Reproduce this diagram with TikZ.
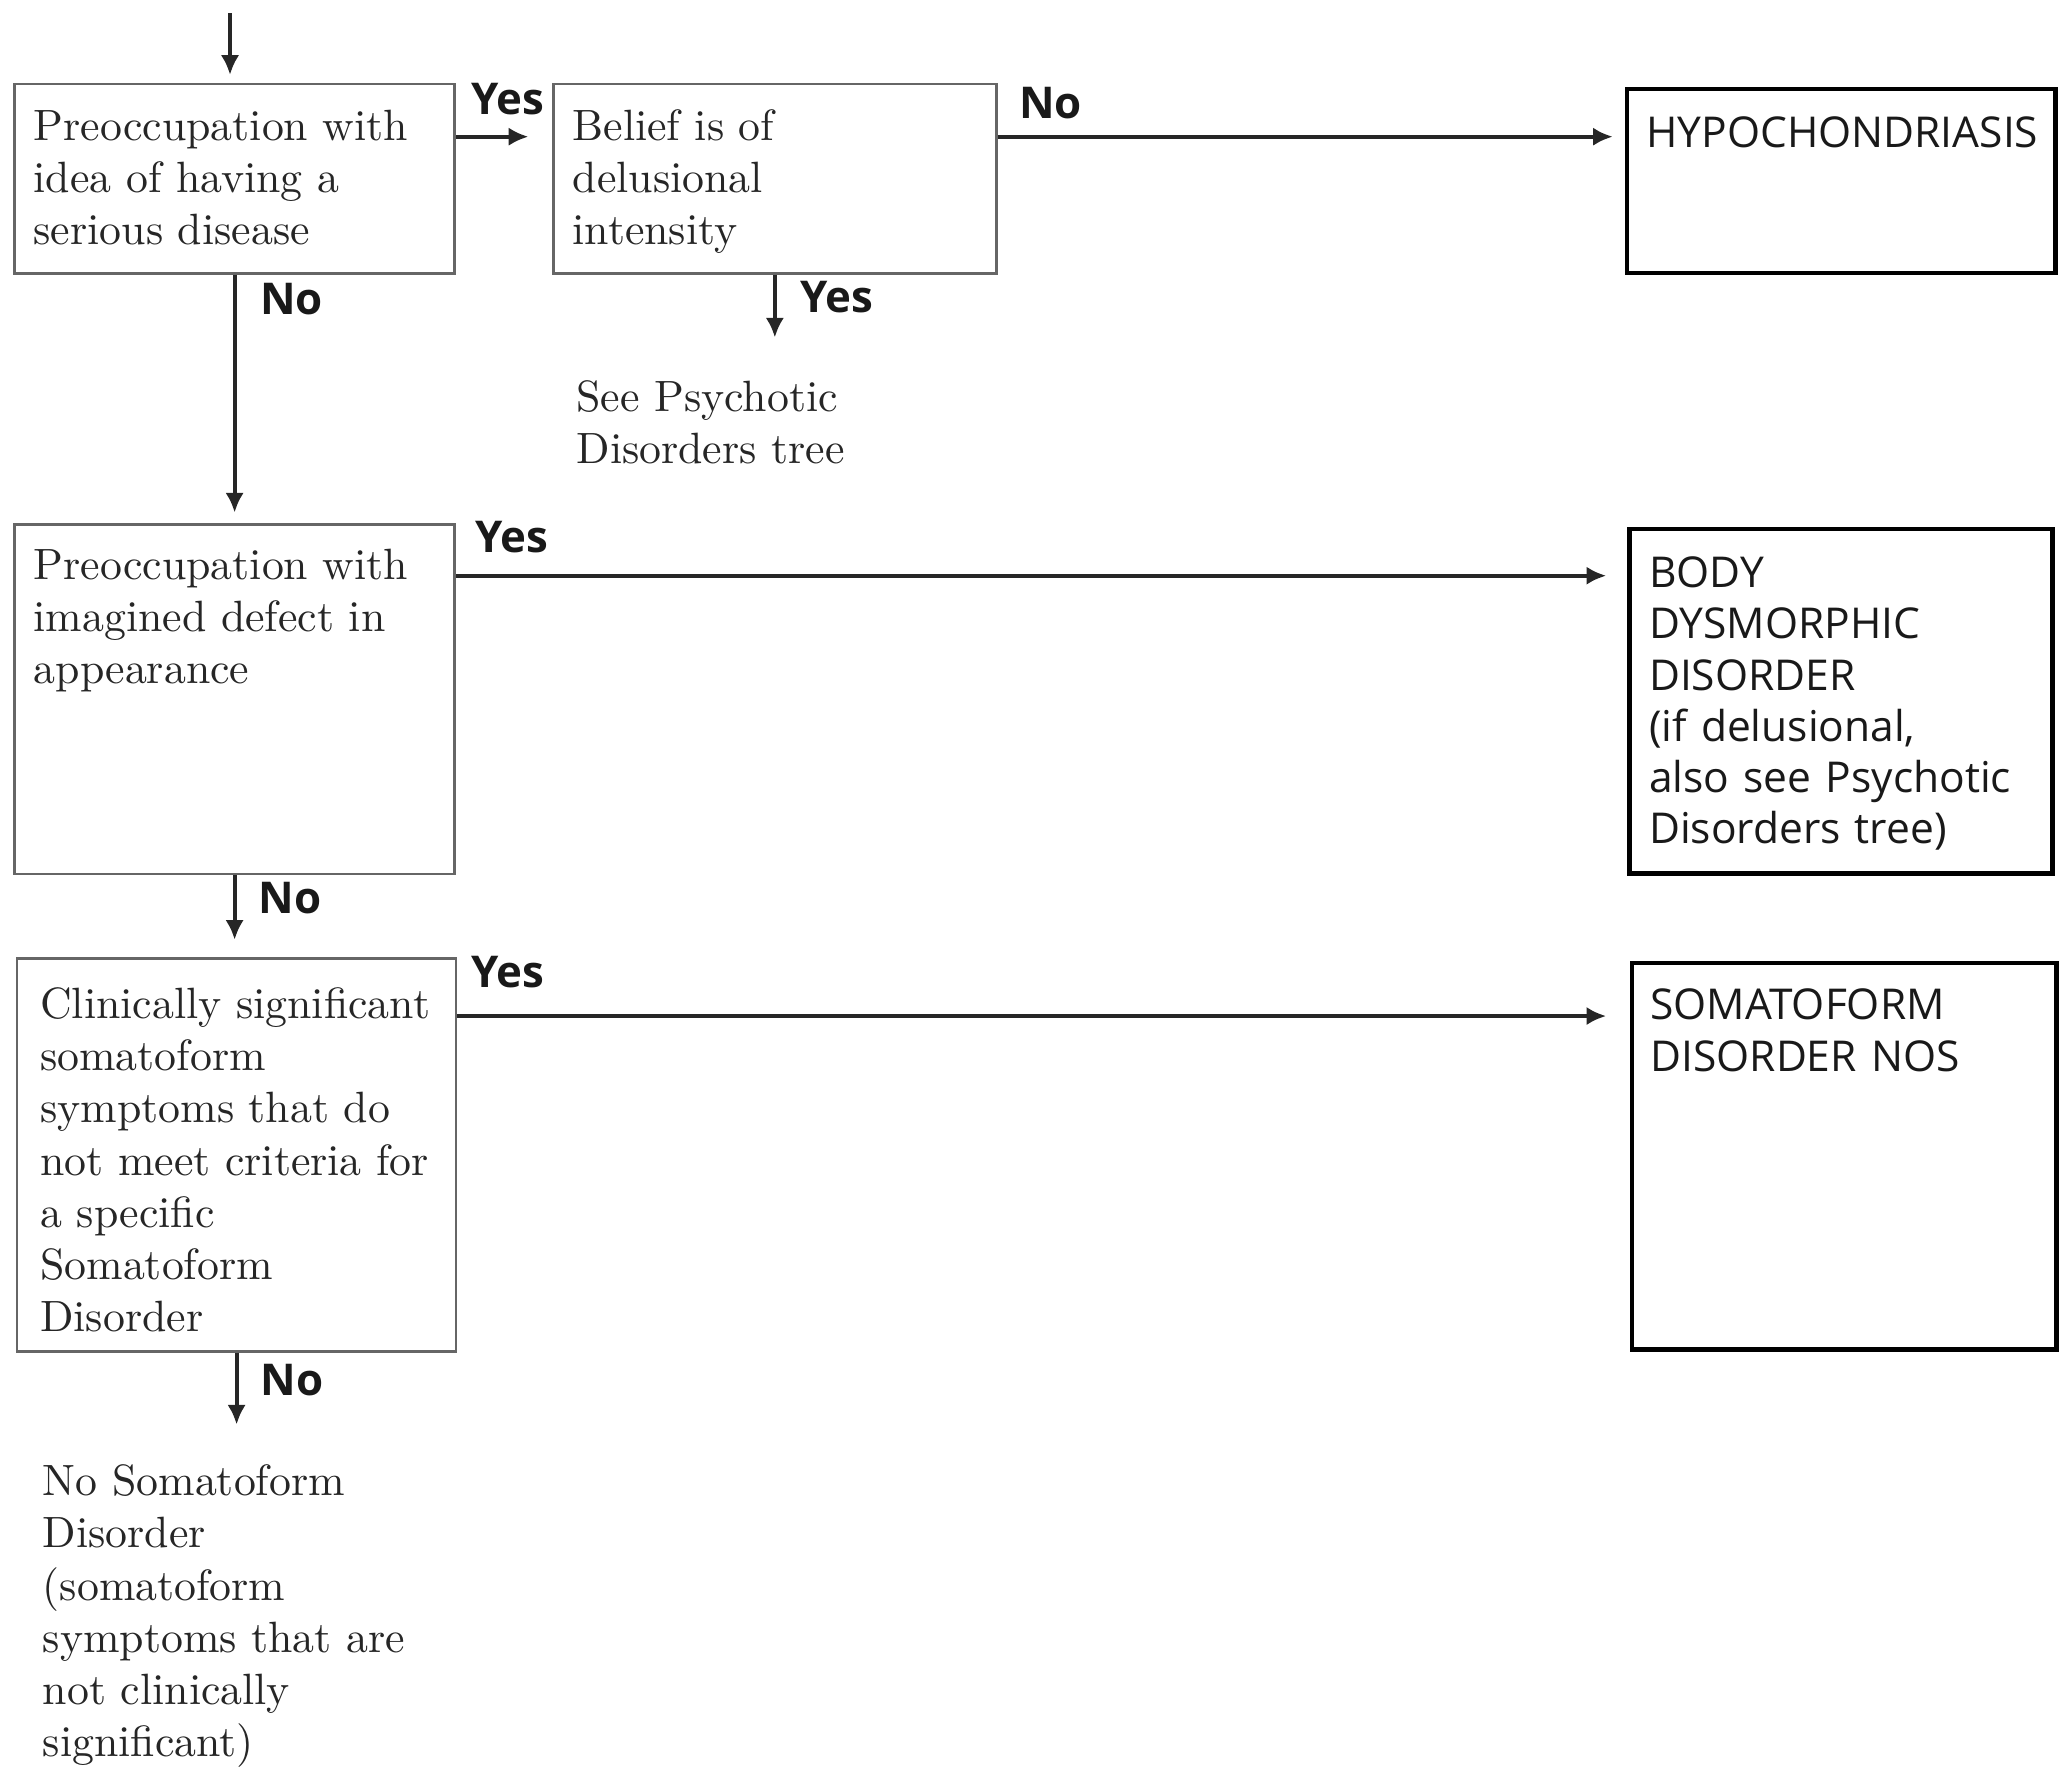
\documentclass[tikz,border=0pt]{standalone}
\usepackage{fontspec}
\newfontfamily\boxsans{Open Sans}
\usetikzlibrary{arrows.meta,positioning}
\newcommand{\px}{0.3pt}

\tikzset{
  qbox/.style={draw=black!60, line width=0.6pt, inner sep=0pt, anchor=north west},
  dbox/.style={draw=black, line width=1pt, inner sep=0pt, anchor=north west},
  qtext/.style={anchor=base west, inner sep=0pt, align=left, text width=330*\px,
    text=black!85, font=\fontsize{10}{11.9}\selectfont},
  dtext/.style={anchor=base west, inner sep=0pt, align=left, text width=310*\px,
    text=black!90, font=\boxsans\fontsize{9.7}{11.7}\selectfont},
  lbl/.style={anchor=base west, inner sep=0pt, text=black!90,
    font=\boxsans\bfseries\fontsize{10}{12}\selectfont},
  arr/.style={-{Latex[length=4.5pt,width=4.2pt]}, line width=0.9pt, draw=black!85}
}

\begin{document}
\begin{tikzpicture}[x=\px, y=-\px]
\useasboundingbox (0,0) rectangle (1568,1350);

% question boxes on the left
\node[qbox, minimum width=335*\px, minimum height=144*\px] (b1) at (10,63) {};
\node[qbox, minimum width=337*\px, minimum height=144*\px] (b2) at (420,63) {};
\node[qbox, minimum width=335*\px, minimum height=266*\px] (b3) at (10,398) {};
\node[qbox, minimum width=334*\px, minimum height=299*\px] (b4) at (12,728) {};

% diagnosis boxes on the right
\node[dbox, minimum width=326*\px, minimum height=140*\px] (r1) at (1236,66) {};
\node[dbox, minimum width=322*\px, minimum height=262*\px] (r2) at (1238,401) {};
\node[dbox, minimum width=323*\px, minimum height=294*\px] (r3) at (1240,731) {};

% texts
\node[qtext] (t1) at ([shift={(15,44)}]b1.north west) {Preoccupation with\\idea of having a\\serious disease};
\node[qtext] (t2) at ([shift={(15,44)}]b2.north west) {Belief is of\\delusional\\intensity};
\node[qtext] (t3) at ([shift={(15,43)}]b3.north west) {Preoccupation with\\imagined defect in\\appearance};
\node[qtext] (t4) at ([shift={(18,47)}]b4.north west) {Clinically significant\\somatoform\\symptoms that do\\not meet criteria for\\a specific\\Somatoform\\Disorder};
\node[qtext] (ps) at (438,313) {See Psychotic\\Disorders tree};
\node[qtext] (none) at (32,1138) {No Somatoform\\Disorder\\(somatoform\\symptoms that are\\not clinically\\significant)};

\node[dtext] (t5) at ([shift={(16,46)}]r1.north west) {HYPOCHONDRIASIS};
\node[dtext] (t6) at ([shift={(16,46)}]r2.north west) {BODY\\DYSMORPHIC\\DISORDER\\(if delusional,\\also see Psychotic\\Disorders tree)};
\node[dtext] (t7) at ([shift={(15,45)}]r3.north west) {SOMATOFORM\\DISORDER NOS};

% entry arrow
\coordinate (entry) at (175,10);
\draw[arr, shorten >=1.8pt] (entry) -- (entry |- b1.north);

% first row
\path (b1.north east) ++(0,41) coordinate (y1);
\draw[arr, shorten >=5.4pt] (y1) -- (y1 -| b2.west) node[lbl, pos=0, shift={(10,-17)}] {Yes};
\path (b2.north east) ++(0,41) coordinate (n1);
\draw[arr, shorten >=2.7pt] (n1) -- (n1 -| r1.west) node[lbl, pos=0, shift={(15,-14)}] {No};
\draw[arr, shorten >=9.6pt] (b2.south) -- (b2.south |- ps.north) node[lbl, pos=0, shift={(18,29)}] {Yes};
\draw[arr, shorten >=2.4pt] (b1.south) -- (b3.north) node[lbl, pos=0, shift={(18,30)}] {No};

% second row
\path (b3.north east) ++(0,40) coordinate (y3);
\draw[arr, shorten >=4.8pt] (y3) -- (y3 -| r2.west) node[lbl, pos=0, shift={(13,-18)}] {Yes};
\draw[arr, shorten >=3.9pt] (b3.south) -- (b3.south |- b4.north) node[lbl, pos=0, shift={(17,29)}] {No};

% third row
\path (b4.north east) ++(0,45) coordinate (y4);
\draw[arr, shorten >=5.4pt] (y4) -- (y4 -| r3.west) node[lbl, pos=0, shift={(9,-22)}] {Yes};
\draw[arr, shorten >=9pt] (b4.south) -- (b4.south |- none.north) node[lbl, pos=0, shift={(17,33)}] {No};
\end{tikzpicture}
\end{document}
